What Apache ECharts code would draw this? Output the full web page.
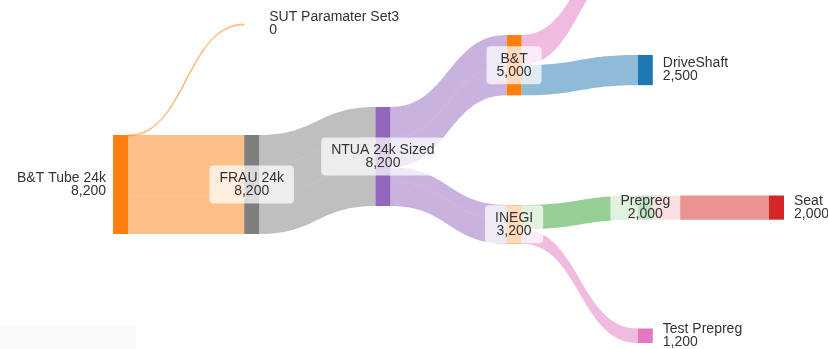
<!DOCTYPE html>
<html>
<head>
<meta charset="utf-8">
<script src="https://cdn.jsdelivr.net/npm/echarts@6/dist/echarts.min.js"></script>
<style>
  html, body { margin: 0; padding: 0; background: #ffffff; }
  #chart { width: 828px; height: 349px; }
</style>
</head>
<body>
<div id="chart"></div>
<script>
// Fibre material flow: tow supply -> processing stages -> finished parts
const nodeNames = [
  'B&T Tube 24k', 'SUT Paramater Set3', 'FRAU 24k', 'NTUA 24k Sized',
  'B&T', 'INEGI', 'Tube Section', 'DriveShaft', 'Prepreg', 'Test Prepreg', 'Seat'
];
const nodeValues = [8200, 0, 8200, 8200, 5000, 3200, 2500, 2500, 2000, 1200, 2000];

// Individual flows (the same pair of stages may carry several batches)
const linkSources = [
  'B&T Tube 24k', 'B&T Tube 24k', 'B&T Tube 24k',
  'FRAU 24k', 'FRAU 24k', 'FRAU 24k',
  'NTUA 24k Sized', 'NTUA 24k Sized', 'NTUA 24k Sized', 'NTUA 24k Sized',
  'B&T', 'B&T', 'INEGI', 'INEGI', 'Prepreg'
];
const linkTargets = [
  'SUT Paramater Set3', 'FRAU 24k', 'FRAU 24k',
  'NTUA 24k Sized', 'NTUA 24k Sized', 'NTUA 24k Sized',
  'B&T', 'B&T', 'INEGI', 'INEGI',
  'Tube Section', 'DriveShaft', 'Prepreg', 'Test Prepreg', 'Seat'
];
const linkValues = [0, 5000, 3200, 2500, 2500, 3200, 2500, 2500, 1200, 2000, 2500, 2500, 2000, 1200, 2000];

// ---- presentation ----
const nodeColors = {
  'B&T Tube 24k': '#ff7f0e', 'SUT Paramater Set3': '#ff7f0e', 'FRAU 24k': '#7f7f7f',
  'NTUA 24k Sized': '#9467bd', 'B&T': '#ff7f0e', 'INEGI': '#ff7f0e',
  'Tube Section': '#e377c2', 'DriveShaft': '#1f77b4', 'Prepreg': '#2ca02c',
  'Test Prepreg': '#e377c2', 'Seat': '#d62728'
};
// link colour follows the stage it is drawn from, except where a part takes over
const linkColorFrom = {
  'B&T Tube 24k': '#ff7f0e', 'FRAU 24k': '#7f7f7f', 'NTUA 24k Sized': '#9467bd'
};
// vertical placement of each stage (px from the top of the plot area)
const nodeTopPx = {
  'B&T Tube 24k': 135, 'SUT Paramater Set3': 24, 'FRAU 24k': 135, 'NTUA 24k Sized': 107,
  'B&T': 35, 'INEGI': 205, 'Tube Section': -70, 'DriveShaft': 55, 'Prepreg': 195.5,
  'Test Prepreg': 328.5, 'Seat': 195.5
};
const sourceNodes = ['B&T Tube 24k'];
const endNodes = ['SUT Paramater Set3', 'Tube Section', 'DriveShaft', 'Test Prepreg', 'Seat'];

const PLOT_LEFT = 113, PLOT_WIDTH = 671, PLOT_HEIGHT = 129, NODE_GAP = 10;
const FONT = { fontFamily: '"Liberation Sans", Arial, sans-serif', fontSize: 14, lineHeight: 13, color: '#333' };
const fmt = v => Number(v).toLocaleString('en-US');

function nodeLabel(name) {
  if (sourceNodes.includes(name)) {
    return Object.assign({ show: true, position: 'left', distance: 7 }, FONT);
  }
  if (endNodes.includes(name)) {
    return Object.assign({ show: true, position: 'right', distance: 10 }, FONT);
  }
  return Object.assign({
    show: true, position: 'inside', align: 'center',
    backgroundColor: 'rgba(255,255,255,0.72)', padding: [6, 10, 6, 10], borderRadius: 4
  }, FONT);
}

const nodes = nodeNames.map((name, i) => ({
  name: name,
  value: nodeValues[i],
  localY: nodeTopPx[name] / PLOT_HEIGHT,
  itemStyle: { color: nodeColors[name], borderWidth: 0 },
  label: nodeLabel(name)
}));

const links = linkSources.map((s, i) => {
  const t = linkTargets[i];
  const color = linkColorFrom[s] || nodeColors[t];
  const link = { source: s, target: t, value: linkValues[i], lineStyle: { color: color } };
  if (linkValues[i] === 0) {
    link.lineStyle = { color: 'rgba(0,0,0,0)', borderColor: '#ff7f0e', borderWidth: 1 };
  }
  return link;
});

const chart = echarts.init(document.getElementById('chart'), null, { renderer: 'canvas' });
chart.setOption({
  animation: false,
  backgroundColor: '#ffffff',
  graphic: [{
    type: 'rect', z: -1, silent: true,
    shape: { x: 0, y: 325, width: 136, height: 24 },
    style: { fill: '#fafafa' }
  }],
  series: [{
    type: 'sankey',
    left: PLOT_LEFT, top: 0, width: PLOT_WIDTH, height: PLOT_HEIGHT,
    nodeWidth: 15,
    nodeGap: NODE_GAP,
    nodeAlign: 'left',
    layoutIterations: 0,
    draggable: false,
    emphasis: { disabled: true },
    label: { formatter: p => p.name + '\n' + fmt(p.value) },
    lineStyle: { curveness: 0.5, opacity: 0.5 },
    data: nodes,
    links: links
  }]
});
</script>
</body>
</html>
